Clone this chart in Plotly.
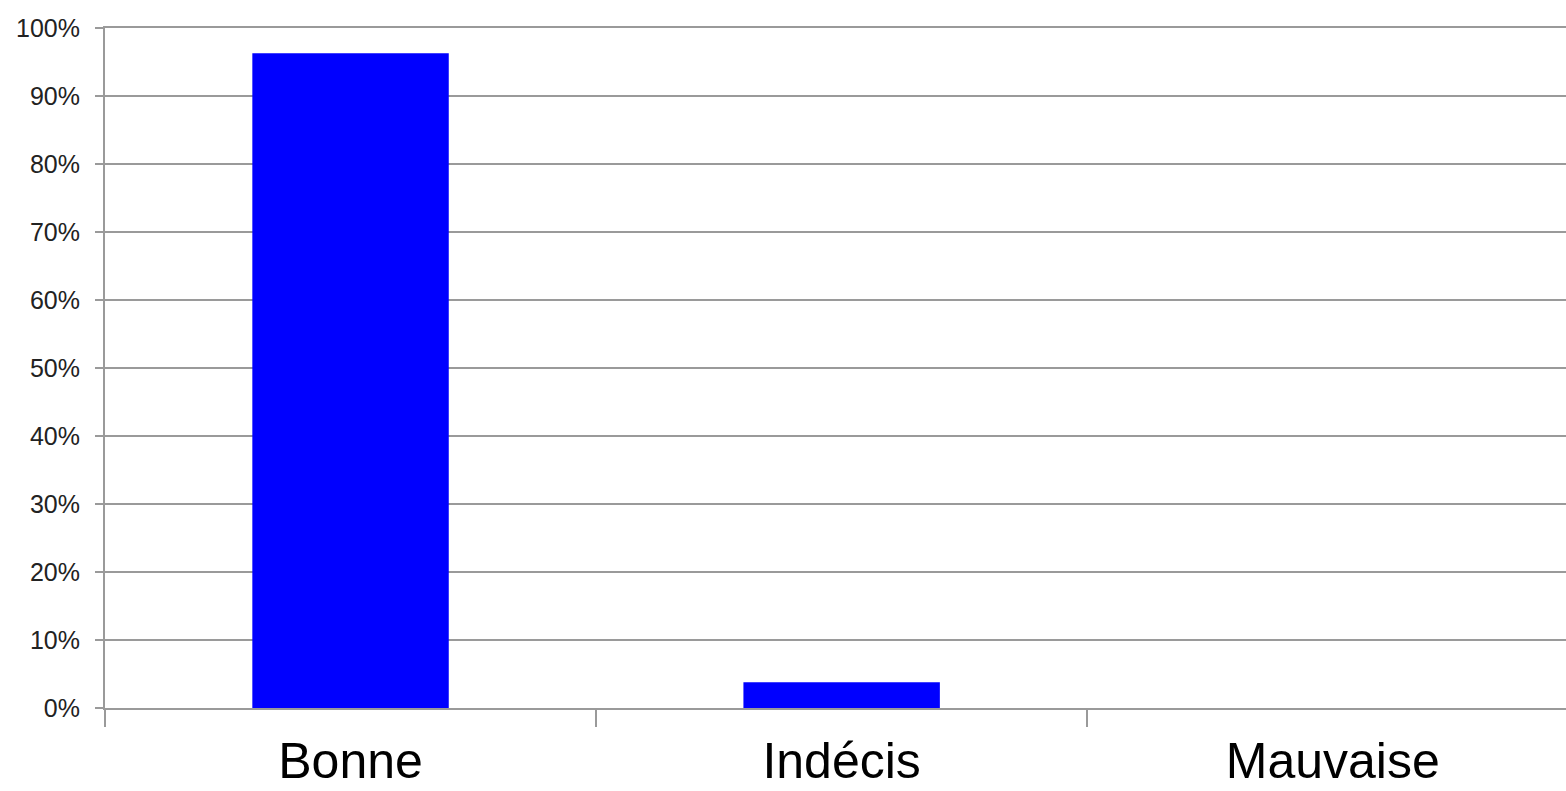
import plotly.graph_objects as go

categories = ["Bonne", "Indécis", "Mauvaise"]
values = [96.3, 3.8, 0.0]
y_tick_vals = [0, 10, 20, 30, 40, 50, 60, 70, 80, 90, 100]
y_tick_text = ["0%", "10%", "20%", "30%", "40%", "50%", "60%", "70%", "80%", "90%", "100%"]

fig = go.Figure()
fig.add_trace(go.Bar(
    x=categories,
    y=values,
    marker=dict(color="#0000FF", line=dict(width=0)),
    hoverinfo="x+y",
))

fig.update_layout(
    width=1566,
    height=791,
    margin=dict(l=105, r=0, t=28, b=83),
    paper_bgcolor="white",
    plot_bgcolor="white",
    bargap=0.6,
    showlegend=False,
    font=dict(family="Liberation Sans, Arial, sans-serif", color="#000000"),
)

fig.update_xaxes(
    type="category",
    range=[-0.5, 2.475],
    automargin=False,
    tickson="boundaries",
    ticks="outside",
    ticklen=17,
    tickwidth=2,
    tickcolor="#9a9a9a",
    showline=True,
    linecolor="#9a9a9a",
    linewidth=2,
    mirror=True,
    showgrid=False,
    tickfont=dict(size=50, color="#000000"),
    ticklabelstandoff=8,
)

fig.update_yaxes(
    automargin=False,
    range=[0, 100],
    tickvals=y_tick_vals,
    ticktext=y_tick_text,
    ticks="outside",
    ticklen=8,
    tickwidth=2,
    tickcolor="#9a9a9a",
    showline=True,
    linecolor="#9a9a9a",
    linewidth=2,
    showgrid=True,
    gridcolor="#9a9a9a",
    gridwidth=2,
    zeroline=False,
    tickfont=dict(size=25, color="#222222"),
    ticklabelstandoff=10,
)

fig.write_html(
    "out.html",
    config={"displayModeBar": False},
    post_script="document.body.style.margin='0';document.body.style.overflow='hidden';",
)
